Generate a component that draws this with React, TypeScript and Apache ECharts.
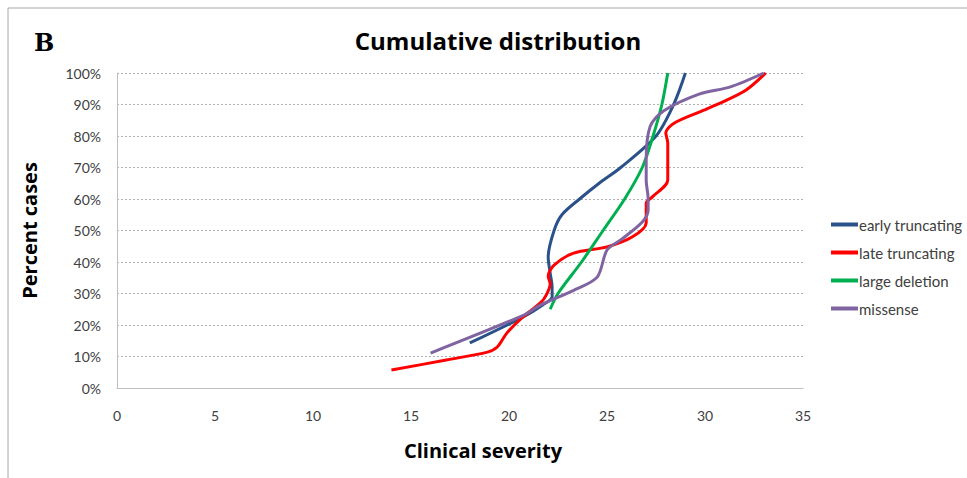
import React, { useEffect, useRef } from "react";
import * as echarts from "echarts";

const seriesNames = ["early truncating", "late truncating", "large deletion", "missense"];
const seriesColors = ["#2A5189", "#FF0000", "#00B050", "#8064A2"];

const earlyTruncating: [number, number][] = [
  [18.0, 14.3], [20.7, 22.5], [21.7, 26.3], [22.2, 29], [22.2, 32], [22.1, 36.5], [22.0, 41.6],
  [22.3, 50], [22.7, 55], [23.6, 60], [24.6, 65], [25.7, 70], [27.5, 80], [28.4, 90], [29.0, 100],
];
const lateTruncating: [number, number][] = [
  [14.0, 5.7], [16.8, 8.9], [18.9, 11.4], [19.4, 13], [19.9, 17.5], [20.7, 22.5], [21.6, 27],
  [21.9, 29.5], [22.1, 33], [22.0, 35.5], [22.3, 39], [23.3, 42.8], [25.0, 44.8], [26.3, 48],
  [27.0, 52.4], [27.0, 58.7], [27.3, 60.6], [28.1, 66], [28.1, 77.8], [28.0, 81], [28.4, 84],
  [29.7, 87.6], [30.8, 90.5], [32.1, 94.6], [33.1, 100],
];
const largeDeletion: [number, number][] = [
  [22.1, 25], [22.5, 30], [23.7, 40], [24.8, 50], [25.9, 60], [26.8, 70], [27.35, 80], [27.8, 90], [28.1, 100],
];
const missense: [number, number][] = [
  [16.0, 11.1], [20.7, 23], [21.6, 26.3], [23.3, 31], [24.5, 35.2], [25.0, 43.8], [25.7, 47],
  [26.8, 52.7], [27.1, 56.5], [27.1, 60], [27.0, 66], [27.0, 72.4], [27.2, 83], [27.9, 88],
  [29.7, 93.3], [31.3, 95.6], [33.0, 100],
];
const seriesData = [earlyTruncating, lateTruncating, largeDeletion, missense];

const xTicks = { min: 0, max: 35, interval: 5 };
const yTicks = { min: 0, max: 100, interval: 10 };

export default function App() {
  const ref = useRef<HTMLDivElement>(null);
  useEffect(() => {
    if (!ref.current) return;
    const chart = echarts.init(ref.current, null, { renderer: "svg" });
    const font = "Open Sans";
    const narrow = "Lato";
    chart.setOption({
      animation: false,
      backgroundColor: "#ffffff",
      textStyle: { fontFamily: font },
      title: {
        text: "Cumulative distribution",
        left: 493,
        textAlign: "center",
        top: 23,
        textStyle: { fontFamily: font, fontSize: 24, fontWeight: "bold", color: "#000" },
      },
      graphic: [
        {
          type: "rect",
          shape: { x: 8, y: 8, width: 1100, height: 1000 },
          style: { fill: "none", stroke: "#a6a6a6", lineWidth: 1 },
          silent: true,
        },
        {
          type: "text",
          left: 34,
          top: 30,
          style: { text: "B", fontFamily: "DejaVu Serif, Liberation Serif, serif", fontSize: 24, fontWeight: "bold", fill: "#000" },
        },
      ],
      legend: {
        orient: "vertical",
        left: 826,
        top: 212,
        itemWidth: 27,
        itemHeight: 4,
        itemGap: 13,
        icon: "rect",
        data: seriesNames,
        textStyle: { fontFamily: narrow, fontSize: 15, color: "#404040", padding: [0, 0, 0, -4] },
      },
      grid: { left: 117, right: 164, top: 73, bottom: 90 },
      xAxis: {
        type: "value",
        min: xTicks.min,
        max: xTicks.max,
        interval: xTicks.interval,
        name: "Clinical severity",
        nameLocation: "middle",
        nameGap: 52,
        nameTextStyle: { fontFamily: font, fontSize: 20, fontWeight: "bold", color: "#000", padding: [0, 0, 0, 46] },
        axisLine: { show: true, lineStyle: { color: "#bfbfbf", width: 1 } },
        axisTick: { show: false },
        splitLine: { show: false },
        axisLabel: { fontFamily: narrow, fontSize: 14, color: "#404040", margin: 20 },
      },
      yAxis: {
        type: "value",
        min: yTicks.min,
        max: yTicks.max,
        interval: yTicks.interval,
        name: "Percent cases",
        nameLocation: "middle",
        nameGap: 78,
        nameTextStyle: { fontFamily: font, fontSize: 20, fontWeight: "bold", color: "#000" },
        axisLine: { show: true, lineStyle: { color: "#bfbfbf", width: 1 } },
        axisTick: { show: false },
        splitLine: { show: true, lineStyle: { color: "#b0b0b0", type: [2, 2], width: 1 } },
        axisLabel: { fontFamily: narrow, fontSize: 14, color: "#404040", margin: 16, formatter: (v: number) => v + "%" },
      },
      series: seriesNames.map((name, i) => ({
        name,
        type: "line",
        data: seriesData[i],
        smooth: 0.3,
        showSymbol: false,
        symbol: "none",
        color: seriesColors[i],
        lineStyle: { color: seriesColors[i], width: 3 },
      })),
    });
    return () => chart.dispose();
  }, []);
  return <div ref={ref} style={{ position: "absolute", left: 0, top: 0, width: 967, height: 478 }} />;
}
